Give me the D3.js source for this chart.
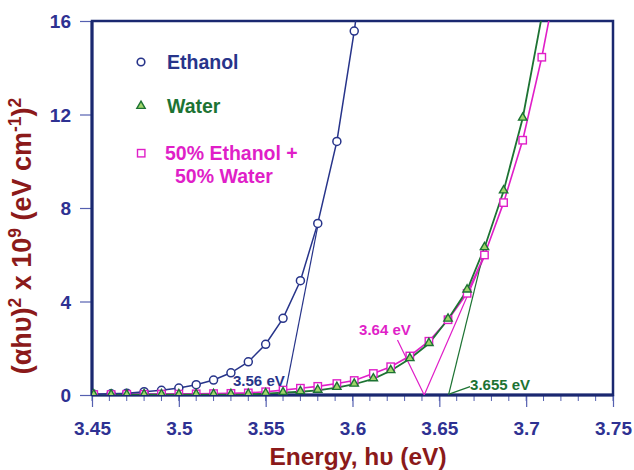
<!DOCTYPE html>
<html>
<head>
<meta charset="utf-8">
<script src="https://cdn.jsdelivr.net/npm/d3@7"></script>
<style>
  body { margin: 0; background: #fff; }
  text { font-family: Arial, "Liberation Sans", sans-serif; font-weight: bold; }
</style>
</head>
<body>
<div id="chart"></div>
<script>
// (alpha h nu)^2 vs photon energy
const ethanolE = [3.451, 3.461, 3.470, 3.480, 3.490, 3.500, 3.510, 3.520, 3.530, 3.540, 3.550, 3.560, 3.570, 3.580, 3.591, 3.601, 3.612];
const ethanolY = [0.03, 0.05, 0.08, 0.14, 0.20, 0.30, 0.44, 0.64, 0.95, 1.42, 2.17, 3.28, 4.89, 7.34, 10.85, 15.57, 21.5];

const waterE = [3.451, 3.461, 3.470, 3.480, 3.490, 3.500, 3.510, 3.520, 3.530, 3.540, 3.550, 3.560, 3.570, 3.580, 3.591, 3.601, 3.612, 3.622, 3.633, 3.644, 3.655, 3.666, 3.676, 3.687, 3.698, 3.709];
const waterY = [0.00, 0.00, 0.00, 0.01, 0.01, 0.01, 0.02, 0.02, 0.02, 0.03, 0.06, 0.10, 0.14, 0.20, 0.32, 0.46, 0.69, 1.04, 1.55, 2.20, 3.24, 4.49, 6.30, 8.73, 11.84, 16.2];

const mixE = [3.451, 3.461, 3.470, 3.480, 3.490, 3.500, 3.510, 3.520, 3.530, 3.540, 3.550, 3.560, 3.570, 3.580, 3.591, 3.601, 3.612, 3.622, 3.633, 3.644, 3.655, 3.666, 3.676, 3.687, 3.698, 3.709, 3.720];
const mixY = [0.02, 0.02, 0.03, 0.03, 0.04, 0.04, 0.05, 0.06, 0.07, 0.09, 0.14, 0.21, 0.29, 0.37, 0.49, 0.62, 0.92, 1.21, 1.67, 2.30, 3.22, 4.35, 5.99, 8.23, 10.90, 14.45, 18.7];

// visible markers stop at the plot top
const ethanolMarks = 16, waterMarks = 25, mixMarks = 26;

const xTicks = [3.45, 3.5, 3.55, 3.6, 3.65, 3.7, 3.75];
const xTickLabels = ["3.45", "3.5", "3.55", "3.6", "3.65", "3.7", "3.75"];
const yTicks = [0, 4, 8, 12, 16];

// tangent lines (extrapolated band edges) and label pointers, in data units
const ethanolFitE = [3.561, 3.5803], ethanolFitY = [0, 7.34];
const mixFitE = [3.6259, 3.6413, 3.6764], mixFitY = [2.35, 0, 5.99];
const waterFitE = [3.6553, 3.6754], waterFitY = [0, 6.06];
const waterPtrE = [3.6677, 3.6560], waterPtrY = [0.36, 0.05];

const navy = '#1a2870', blue = '#27348a', tickBlue = '#2e3192';
const green = '#1d7333', magenta = '#e01fc8', red = '#8b1a1a';

const W = 634, H = 470;
const margin = {left: 92, right: 21, top: 21, bottom: 75};

const svg = d3.select('#chart').append('svg')
    .attr('width', W).attr('height', H);

const x = d3.scaleLinear().domain([3.45, 3.75]).range([margin.left, W - margin.right]);
const y = d3.scaleLinear().domain([0, 16]).range([H - margin.bottom, margin.top]);

svg.append('clipPath').attr('id', 'clip')
    .append('rect')
    .attr('x', x(3.45)).attr('y', y(16))
    .attr('width', x(3.75) - x(3.45)).attr('height', y(0) - y(16));

// axes
const xAxis = d3.axisBottom(x).tickValues(xTicks).tickSize(12).tickFormat((d, i) => xTickLabels[i]);
const gx = svg.append('g').attr('transform', `translate(0,${y(0)})`).call(xAxis);
gx.select('.domain').remove();
gx.selectAll('line').attr('stroke', '#5560b0').attr('stroke-width', 1.2);
gx.selectAll('text').attr('fill', tickBlue).attr('font-size', 19).attr('dy', null).attr('y', 40);

// minor x ticks every 0.01
const minor = d3.range(0, 31).map(i => 3.45 + i * 0.01);
svg.append('g').selectAll('line').data(minor).join('line')
    .attr('x1', d => x(d)).attr('x2', d => x(d))
    .attr('y1', y(0)).attr('y2', y(0) + 6)
    .attr('stroke', '#5560b0').attr('stroke-width', 1);

const yAxis = d3.axisLeft(y).tickValues(yTicks).tickSize(12);
const gy = svg.append('g').attr('transform', `translate(${x(3.45)},0)`).call(yAxis);
gy.select('.domain').remove();
gy.selectAll('line').attr('stroke', '#5560b0').attr('stroke-width', 1.2);
gy.selectAll('text').attr('fill', tickBlue).attr('font-size', 19).attr('x', -21).attr('dy', '0.36em');

// frame
svg.append('rect')
    .attr('x', x(3.45)).attr('y', y(16))
    .attr('width', x(3.75) - x(3.45)).attr('height', y(0) - y(16))
    .attr('fill', 'none').attr('stroke', navy).attr('stroke-width', 2.5);
svg.append('line')
    .attr('x1', x(3.45)).attr('x2', x(3.45)).attr('y1', y(16)).attr('y2', y(0))
    .attr('stroke', navy).attr('stroke-width', 3);
svg.append('line')
    .attr('x1', x(3.45)).attr('x2', x(3.75)).attr('y1', y(0)).attr('y2', y(0))
    .attr('stroke', navy).attr('stroke-width', 3);

const plot = svg.append('g').attr('clip-path', 'url(#clip)');
const line = d3.line().x(d => x(d[0])).y(d => y(d[1]));
const zip = (a, b) => a.map((v, i) => [v, b[i]]);

// tangents
plot.append('path').datum(zip(ethanolFitE, ethanolFitY)).attr('d', line)
    .attr('fill', 'none').attr('stroke', blue).attr('stroke-width', 1.2);
plot.append('path').datum(zip(mixFitE, mixFitY)).attr('d', line)
    .attr('fill', 'none').attr('stroke', magenta).attr('stroke-width', 1.2);
plot.append('path').datum(zip(waterFitE, waterFitY)).attr('d', line)
    .attr('fill', 'none').attr('stroke', green).attr('stroke-width', 1.2);
plot.append('path').datum(zip(waterPtrE, waterPtrY)).attr('d', line)
    .attr('fill', 'none').attr('stroke', green).attr('stroke-width', 1.2);

// data lines
const mixData = zip(mixE, mixY), waterData = zip(waterE, waterY), ethData = zip(ethanolE, ethanolY);
plot.append('path').datum(mixData).attr('d', line)
    .attr('fill', 'none').attr('stroke', magenta).attr('stroke-width', 1.6);
plot.append('path').datum(waterData).attr('d', line)
    .attr('fill', 'none').attr('stroke', green).attr('stroke-width', 1.8);
plot.append('path').datum(ethData).attr('d', line)
    .attr('fill', 'none').attr('stroke', blue).attr('stroke-width', 1.5);

// markers
const tri = d3.symbol().type(d3.symbolTriangle).size(30);
plot.append('g').selectAll('circle').data(ethData.slice(0, ethanolMarks)).join('circle')
    .attr('cx', d => x(d[0])).attr('cy', d => y(d[1])).attr('r', 4)
    .attr('fill', '#fff').attr('stroke', blue).attr('stroke-width', 1.5);
plot.append('g').selectAll('rect').data(mixData.slice(0, mixMarks)).join('rect')
    .attr('x', d => x(d[0]) - 3.7).attr('y', d => y(d[1]) - 3.7)
    .attr('width', 7.4).attr('height', 7.4)
    .attr('fill', '#fff').attr('stroke', magenta).attr('stroke-width', 1.4);
plot.append('g').selectAll('path').data(waterData.slice(0, waterMarks)).join('path')
    .attr('d', tri)
    .attr('transform', d => `translate(${x(d[0])},${y(d[1]) - 0.5})`)
    .attr('fill', '#9fd66a').attr('stroke', green).attr('stroke-width', 1.4);

// band gap labels
svg.append('text').attr('x', x(3.5312)).attr('y', y(0.38))
    .attr('fill', blue).attr('font-size', 15).text('3.56 eV');
svg.append('text').attr('x', x(3.6038)).attr('y', y(2.57))
    .attr('fill', magenta).attr('font-size', 15).text('3.64 eV');
svg.append('text').attr('x', x(3.6677)).attr('y', y(0.2))
    .attr('fill', green).attr('font-size', 15).text('3.655 eV');

// legend
const leg = svg.append('g');
leg.append('circle').attr('cx', 141).attr('cy', 62).attr('r', 3.8)
    .attr('fill', '#fff').attr('stroke', blue).attr('stroke-width', 1.6);
leg.append('text').attr('x', 167).attr('y', 69).attr('fill', blue).attr('font-size', 19.5).text('Ethanol');
leg.append('path').attr('d', tri).attr('transform', 'translate(141,106)')
    .attr('fill', '#9fd66a').attr('stroke', green).attr('stroke-width', 1.4);
leg.append('text').attr('x', 167).attr('y', 113).attr('fill', green).attr('font-size', 19.5).text('Water');
leg.append('rect').attr('x', 137.5).attr('y', 149.5).attr('width', 7.4).attr('height', 7.4)
    .attr('fill', '#fff').attr('stroke', magenta).attr('stroke-width', 1.4);
leg.append('text').attr('x', 165).attr('y', 160).attr('fill', magenta).attr('font-size', 19.5).text('50% Ethanol +');
leg.append('text').attr('x', 175).attr('y', 183).attr('fill', magenta).attr('font-size', 19.5).text('50% Water');

// axis titles
svg.append('text').attr('x', 358).attr('y', 465)
    .attr('text-anchor', 'middle').attr('fill', red).attr('font-size', 24.5)
    .text('Energy, h\u03C5 (eV)');

const yt = svg.append('text')
    .attr('transform', 'translate(31,236) rotate(-90)')
    .attr('text-anchor', 'middle').attr('fill', red).attr('font-size', 27);
yt.append('tspan').text('(\u03B1h\u03C5)');
yt.append('tspan').attr('font-size', 17.5).attr('dy', -10).text('2');
yt.append('tspan').attr('dy', 10).text(' x 10');
yt.append('tspan').attr('font-size', 17.5).attr('dy', -10).text('9');
yt.append('tspan').attr('dy', 10).text(' (eV cm');
yt.append('tspan').attr('font-size', 17.5).attr('dy', -10).text('-1');
yt.append('tspan').attr('dy', 10).text(')');
yt.append('tspan').attr('font-size', 17.5).attr('dy', -10).text('2');
</script>
</body>
</html>
